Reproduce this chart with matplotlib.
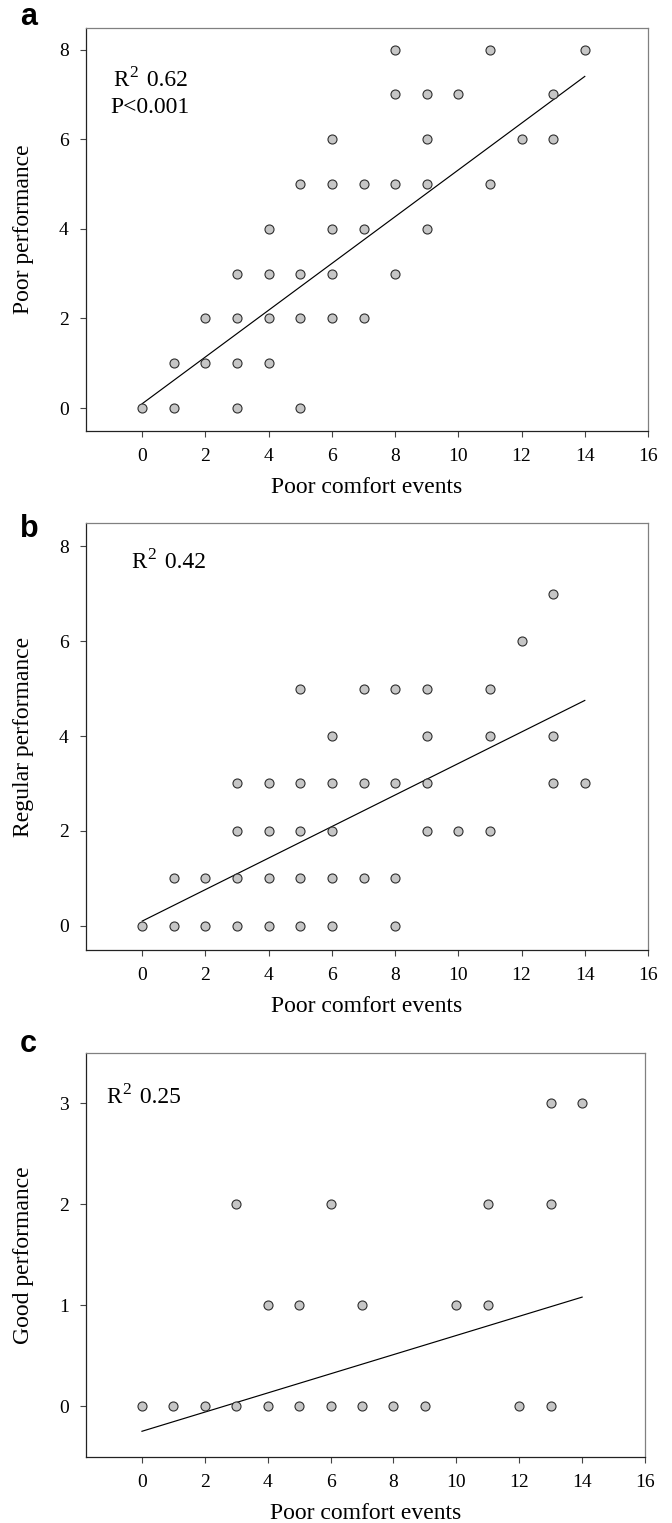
import matplotlib
matplotlib.use("Agg")
import matplotlib.pyplot as plt
import matplotlib.transforms as mtransforms
import numpy as np

plt.rcParams['font.family'] = ['Liberation Serif', 'DejaVu Serif']

# ---------------- data ----------------
xlabel = "Poor comfort events"

# Panel a: Poor performance
a_x = [8, 11, 14,
       8, 9, 10, 13,
       6, 9, 12, 13,
       5, 6, 7, 8, 9, 11,
       4, 6, 7, 9,
       3, 4, 5, 6, 8,
       2, 3, 4, 5, 6, 7,
       1, 2, 3, 4,
       0, 1, 3, 5]
a_y = [8, 8, 8,
       7, 7, 7, 7,
       6, 6, 6, 6,
       5, 5, 5, 5, 5, 5,
       4, 4, 4, 4,
       3, 3, 3, 3, 3,
       2, 2, 2, 2, 2, 2,
       1, 1, 1, 1,
       0, 0, 0, 0]
a_fit_x = [0, 14]
a_fit_y = [0.1, 7.4]

# Panel b: Regular performance
b_x = [13,
       12,
       5, 7, 8, 9, 11,
       6, 9, 11, 13,
       3, 4, 5, 6, 7, 8, 9, 13, 14,
       3, 4, 5, 6, 9, 10, 11,
       1, 2, 3, 4, 5, 6, 7, 8,
       0, 1, 2, 3, 4, 5, 6, 8]
b_y = [7,
       6,
       5, 5, 5, 5, 5,
       4, 4, 4, 4,
       3, 3, 3, 3, 3, 3, 3, 3, 3,
       2, 2, 2, 2, 2, 2, 2,
       1, 1, 1, 1, 1, 1, 1, 1,
       0, 0, 0, 0, 0, 0, 0, 0]
b_fit_x = [0, 14]
b_fit_y = [0.1, 4.75]

# Panel c: Good performance
c_x = [13, 14,
       3, 6, 11, 13,
       4, 5, 7, 10, 11,
       0, 1, 2, 3, 4, 5, 6, 7, 8, 9, 12, 13]
c_y = [3, 3,
       2, 2, 2, 2,
       1, 1, 1, 1, 1,
       0, 0, 0, 0, 0, 0, 0, 0, 0, 0, 0, 0]
c_fit_x = [0, 14]
c_fit_y = [-0.25, 1.08]

r2_values = ["0.62", "0.42", "0.25"]
p_text = "P<0.001"

xticks = [0, 2, 4, 6, 8, 10, 12, 14, 16]
yticks_ab = [0, 2, 4, 6, 8]
yticks_c = [0, 1, 2, 3]

# ---------------- figure ----------------
W, H = 672, 1523
fig = plt.figure(figsize=(W / 100, H / 100), dpi=100)
renderer = fig.canvas.get_renderer()


def px_axes(l, r, t, b):
    return fig.add_axes([l / W, 1 - b / H, (r - l) / W, (b - t) / H])


def r2_label(ax, x, y, value, size=16.5, sup_size=12.5, sup_rise=6.5):
    base = ax.transAxes
    t1 = ax.text(x, y, "R", transform=base, fontsize=size, ha="left", va="baseline")
    w1 = t1.get_window_extent(renderer).width
    tr2 = mtransforms.offset_copy(base, fig=fig, x=w1 * 72 / fig.dpi + 0.8, y=sup_rise,
                                  units="points")
    t2 = ax.text(x, y, "2", transform=tr2, fontsize=sup_size, ha="left", va="baseline")
    w2 = t2.get_window_extent(renderer).width
    tr3 = mtransforms.offset_copy(base, fig=fig, x=(w1 + w2) * 72 / fig.dpi + 2.8,
                                  y=0, units="points")
    ax.text(x, y, " " + value, transform=tr3, fontsize=size + 0.5, ha="left",
            va="baseline")


panels = [
    dict(box=(86, 648, 28, 431), x=a_x, y=a_y, fx=a_fit_x, fy=a_fit_y,
         ylim=(-0.51, 8.48), yticks=yticks_ab, ylabel="Poor performance",
         letter="a", letter_y=25, r2=(r2_values[0], 0.048, 0.856),
         ptext=(p_text, 0.044, 0.789)),
    dict(box=(86, 648, 523, 950), x=b_x, y=b_y, fx=b_fit_x, fy=b_fit_y,
         ylim=(-0.51, 8.49), yticks=yticks_ab, ylabel="Regular performance",
         letter="b", letter_y=537, r2=(r2_values[1], 0.08, 0.895), ptext=None),
    dict(box=(86, 645, 1053, 1457), x=c_x, y=c_y, fx=c_fit_x, fy=c_fit_y,
         ylim=(-0.505, 3.5), yticks=yticks_c, ylabel="Good performance",
         letter="c", letter_y=1052, r2=(r2_values[2], 0.036, 0.876), ptext=None),
]

for p in panels:
    l, r, t, b = p["box"]
    ax = px_axes(l, r, t, b)
    ax.scatter(p["x"], p["y"], s=6.5 ** 2, facecolor="#c6c6c6",
               edgecolor="#2e2e2e", linewidths=0.8, zorder=3)
    ax.plot(p["fx"], p["fy"], color="black", lw=0.85, zorder=2)
    ax.set_xlim(-1.78, 16)
    ax.set_ylim(*p["ylim"])
    ax.set_xticks(xticks)
    ax.set_yticks(p["yticks"])
    ax.tick_params(direction="out", length=4.5, width=0.8, color="#444444",
                   labelsize=14, pad=8, top=False, right=False)
    for s in ("left", "bottom"):
        ax.spines[s].set_color("#222222")
        ax.spines[s].set_linewidth(0.9)
    for s in ("top", "right"):
        ax.spines[s].set_color("#808080")
        ax.spines[s].set_linewidth(0.9)
    ax.set_xlabel(xlabel, fontsize=17)
    ax.set_ylabel(p["ylabel"], fontsize=17)
    ax.xaxis.set_label_coords(0.5, -(46 / (b - t)))
    ax.yaxis.set_label_coords(-(52 / (r - l)), 0.5)
    val, tx, ty = p["r2"]
    r2_label(ax, tx, ty, val)
    if p["ptext"]:
        txt, tx, ty = p["ptext"]
        ax.text(tx, ty, txt, transform=ax.transAxes, fontsize=17,
                ha="left", va="baseline")
    fig.text(20 / W, 1 - p["letter_y"] / H, p["letter"], fontsize=22,
             fontweight="bold", family=["Liberation Sans", "DejaVu Sans"],
             ha="left", va="baseline")

fig.savefig("out.png", dpi=100)
